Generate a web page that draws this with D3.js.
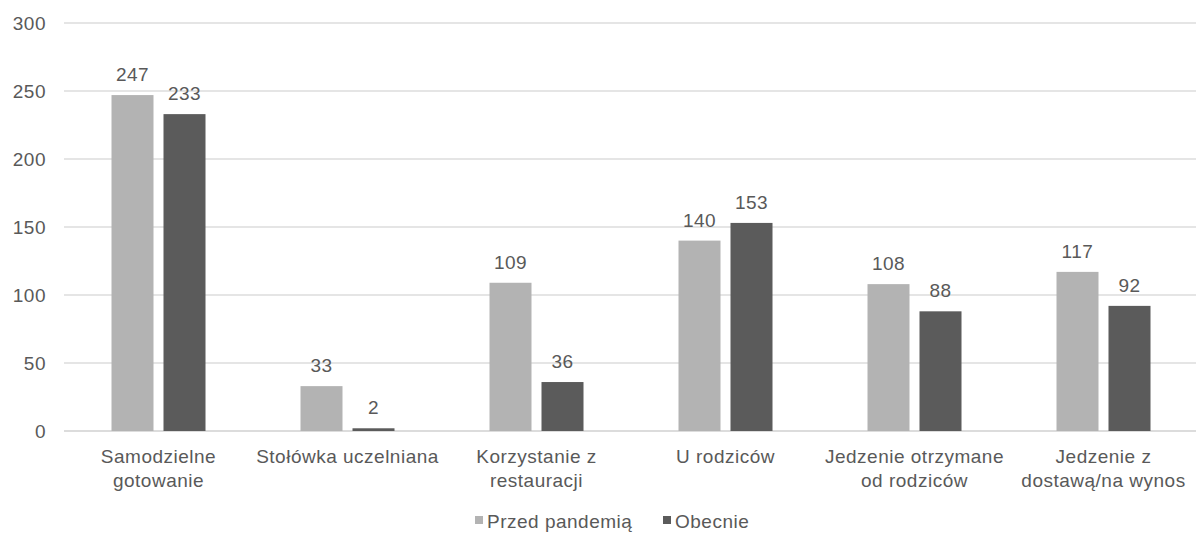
<!DOCTYPE html>
<html><head><meta charset="utf-8">
<script src="https://cdn.jsdelivr.net/npm/d3@7"></script>
<style>body{margin:0;background:#fff}svg{display:block}text{font-family:"Liberation Sans",Arial,sans-serif;fill:#595959;letter-spacing:0.5px}</style>
</head><body><svg id="c" width="1196" height="533"></svg>
<script>
const categories = [["Samodzielne","gotowanie"],["Stołówka uczelniana"],["Korzystanie z","restauracji"],["U rodziców"],["Jedzenie otrzymane","od rodziców"],["Jedzenie z","dostawą/na wynos"]];
const seriesNames = ["Przed pandemią","Obecnie"];
const before = [247,33,109,140,108,117];
const now = [233,2,36,153,88,92];
const yTicks = [0,50,100,150,200,250,300];
const colors = ["#b3b3b3","#5b5b5b"];

const svg = d3.select("#c");
const fs = 19;
const pLeft=64, pRight=1198, pTop=23, pBottom=431;
const x = d3.scaleBand().domain(d3.range(categories.length)).range([pLeft,pRight]);
const y = d3.scaleLinear().domain([0,300]).range([pBottom,pTop]);
const bw = 42, gap = 10;

svg.append("g").selectAll("line").data(yTicks).join("line")
  .attr("x1",pLeft).attr("x2",1196).attr("y1",d=>y(d)).attr("y2",d=>y(d))
  .attr("stroke",d=>d===0?"#d0d0d0":"#dcdcdc").attr("stroke-width",1.5);
svg.append("g").selectAll("text").data(yTicks).join("text")
  .attr("x",46).attr("y",d=>y(d)+7).attr("text-anchor","end").attr("font-size",fs).text(d=>d);

const data = [before, now];
data.forEach((vals,si)=>{
  const g = svg.append("g");
  vals.forEach((v,i)=>{
    const cx = x(i)+x.bandwidth()/2;
    const bx = si===0 ? cx - gap/2 - bw : cx + gap/2;
    g.append("rect").attr("x",bx).attr("y",y(v)).attr("width",bw).attr("height",y(0)-y(v)).attr("fill",colors[si]);
    g.append("text").attr("x",bx+bw/2).attr("y",y(v)-14).attr("text-anchor","middle").attr("font-size",fs).text(v);
  });
});

categories.forEach((lines,i)=>{
  const t = svg.append("text").attr("x",x(i)+x.bandwidth()/2).attr("y",463).attr("text-anchor","middle").attr("font-size",fs);
  lines.forEach((l,j)=>t.append("tspan").attr("x",x(i)+x.bandwidth()/2).attr("dy",j?24:0).text(l));
});

const lg = svg.append("g");
const lx = [475, 663];
seriesNames.forEach((n,i)=>{
  lg.append("rect").attr("x",lx[i]).attr("y",516).attr("width",8).attr("height",8).attr("fill",colors[i]);
  lg.append("text").attr("x",lx[i]+12).attr("y",528).attr("font-size",fs).text(n);
});
</script></body></html>
